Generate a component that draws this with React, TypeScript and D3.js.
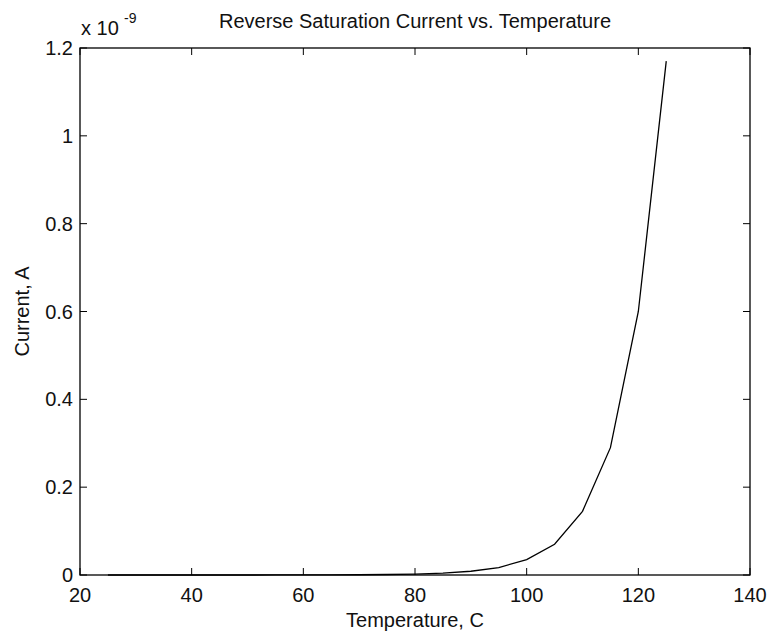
import React from "react";
import * as d3 from "d3";

const temperatures = [25, 30, 35, 40, 45, 50, 55, 60, 65, 70, 75, 80, 85, 90, 95, 100, 105, 110, 115, 120, 125];
const currents = [
  0.0000011e-9, 0.0000021e-9, 0.0000043e-9, 0.0000085e-9, 0.000017e-9, 0.000035e-9, 0.00007e-9,
  0.00014e-9, 0.00027e-9, 0.00055e-9, 0.0011e-9, 0.0021e-9, 0.0043e-9, 0.0085e-9, 0.017e-9,
  0.035e-9, 0.07e-9, 0.145e-9, 0.29e-9, 0.6e-9, 1.17e-9,
];
const xTicks = [20, 40, 60, 80, 100, 120, 140];
const yTicks = [0, 0.2e-9, 0.4e-9, 0.6e-9, 0.8e-9, 1.0e-9, 1.2e-9];
const yTickLabels = ["0", "0.2", "0.4", "0.6", "0.8", "1", "1.2"];
const title = "Reverse Saturation Current vs. Temperature";
const xLabel = "Temperature, C";
const yLabel = "Current, A";

export default function App() {
  const W = 769, H = 637;
  const left = 80, right = 750, top = 48, bottom = 575;
  const x = d3.scaleLinear().domain([20, 140]).range([left, right]);
  const y = d3.scaleLinear().domain([0, 1.2e-9]).range([bottom, top]);
  const line = d3.line<number>().x((_, i) => x(temperatures[i])).y((d) => y(d));
  const font = "'Liberation Sans', Arial, Helvetica, sans-serif";
  const fs = 20;
  const tick = 7;
  return (
    <svg width={W} height={H} style={{ position: "absolute", left: 0, top: 0, background: "#fff" }} fontFamily={font}>
      <rect x={0} y={0} width={W} height={H} fill="#fff" />
      <path d={line(currents) || ""} fill="none" stroke="#000" strokeWidth={1.3} />
      <rect x={left} y={top} width={right - left} height={bottom - top} fill="none" stroke="#000" strokeWidth={1.3} />
      {xTicks.map((t) => (
        <g key={"x" + t}>
          <line x1={x(t)} x2={x(t)} y1={bottom} y2={bottom - tick} stroke="#000" />
          <line x1={x(t)} x2={x(t)} y1={top} y2={top + tick} stroke="#000" />
          <text x={x(t)} y={602} textAnchor="middle" fontSize={fs} fill="#111">{t}</text>
        </g>
      ))}
      {yTicks.map((t, i) => (
        <g key={"y" + i}>
          <line x1={left} x2={left + tick} y1={y(t)} y2={y(t)} stroke="#000" />
          <line x1={right} x2={right - tick} y1={y(t)} y2={y(t)} stroke="#000" />
          <text x={73} y={y(t)} textAnchor="end" dominantBaseline="central" fontSize={fs} fill="#111">{yTickLabels[i]}</text>
        </g>
      ))}
      <text x={81} y={35} fontSize={fs} fill="#111">x 10</text>
      <text x={124} y={23} fontSize={14} fill="#111">-9</text>
      <text x={(left + right) / 2} y={28} textAnchor="middle" fontSize={fs} fill="#111">{title}</text>
      <text x={(left + right) / 2} y={627} textAnchor="middle" fontSize={fs} fill="#111">{xLabel}</text>
      <text transform={`translate(29, ${(top + bottom) / 2}) rotate(-90)`} textAnchor="middle" fontSize={fs} fill="#111">{yLabel}</text>
    </svg>
  );
}
